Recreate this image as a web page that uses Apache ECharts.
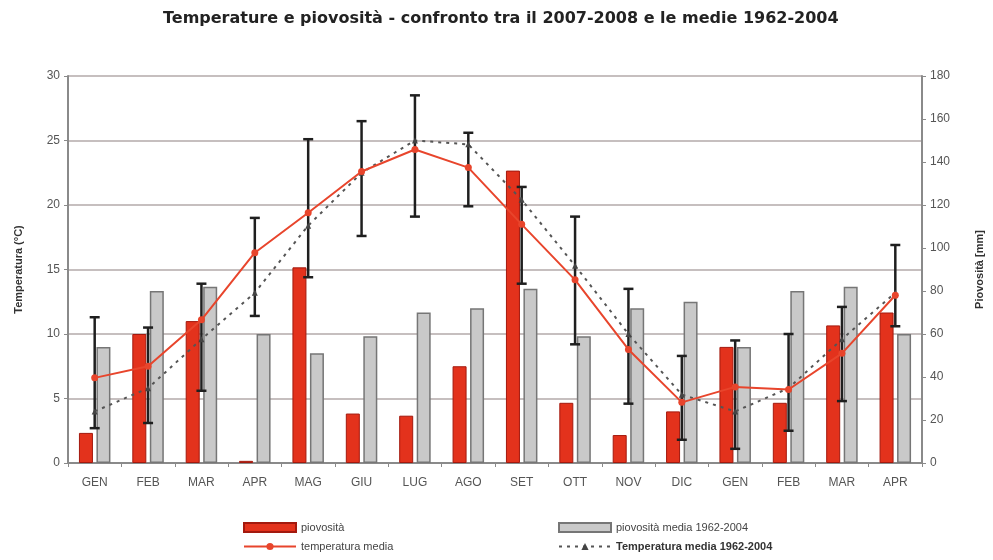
<!DOCTYPE html>
<html>
<head>
<meta charset="utf-8">
<script src="https://cdn.jsdelivr.net/npm/echarts@6/dist/echarts.min.js"></script>
<style>
  html, body { margin: 0; padding: 0; background: #ffffff; }
  #chart { width: 993px; height: 560px; }
</style>
</head>
<body>
<div id="chart"></div>
<script>
// dati
const months = ["GEN", "FEB", "MAR", "APR", "MAG", "GIU", "LUG", "AGO", "SET", "OTT", "NOV", "DIC", "GEN", "FEB", "MAR", "APR"];
const pioggia = [14, 60, 66, 1, 91, 23, 22, 45, 136, 28, 13, 24, 54, 28, 64, 70];
const pioggiaMedia = [54, 80, 82, 60, 51, 59, 70, 72, 81, 59, 72, 75, 54, 80, 82, 60];
const tempMedia = [6.6, 7.5, 11.1, 16.3, 19.4, 22.6, 24.3, 22.9, 18.5, 14.2, 8.8, 4.7, 5.9, 5.7, 8.5, 13.0];
const tempStorica = [4.0, 5.8, 9.6, 13.2, 18.4, 22.5, 25.0, 24.7, 20.4, 15.3, 10.0, 5.3, 4.0, 5.8, 9.6, 13.2];
const tempMin = [2.7, 3.1, 5.6, 11.4, 14.4, 17.6, 19.1, 19.9, 13.9, 9.2, 4.6, 1.8, 1.1, 2.5, 4.8, 10.6];
const tempMax = [11.3, 10.5, 13.9, 19.0, 25.1, 26.5, 28.5, 25.6, 21.4, 19.1, 13.5, 8.3, 9.5, 10.0, 12.1, 16.9];

var errorData = months.map(function (m, i) {
  return [i, tempMin[i], tempMax[i]];
});

var chartDom = document.getElementById("chart");
var myChart = echarts.init(chartDom);
var labelStyle = { color: "#555", fontSize: 12, fontFamily: "Liberation Sans" };

var option = {
  animation: false,
  title: {
    text: "Temperature e piovosità - confronto tra il 2007-2008 e le medie 1962-2004",
    left: 158,
    top: 6,
    textStyle: { fontSize: 16, fontWeight: "bold", color: "#222", fontFamily: "DejaVu Sans" },
  },
  grid: { left: 68, right: 64, top: 76, bottom: 97 },
  legend: [
    {
      orient: "vertical",
      left: 238,
      top: 517,
      itemWidth: 52,
      itemHeight: 9,
      itemGap: 8,
      textStyle: { color: "#444", fontSize: 11, fontFamily: "Liberation Sans" },
      data: [
        { name: "piovosità", icon: "rect" },
        { name: "temperatura media" },
      ],
    },
    {
      orient: "vertical",
      left: 553,
      top: 517,
      itemWidth: 52,
      itemHeight: 9,
      itemGap: 8,
      textStyle: { color: "#444", fontSize: 11, fontFamily: "Liberation Sans" },
      data: [
        { name: "piovosità media 1962-2004", icon: "rect" },
        { name: "Temperatura media 1962-2004", textStyle: { fontWeight: "bold", color: "#333" } },
      ],
    },
  ],
  xAxis: {
    type: "category",
    data: months,
    axisLine: { lineStyle: { color: "#8a8a8a", width: 2 } },
    axisTick: { show: true, length: 4, lineStyle: { color: "#8a8a8a" } },
    axisLabel: Object.assign({ margin: 14 }, labelStyle),
  },
  yAxis: [
    {
      type: "value",
      min: 0,
      max: 30,
      interval: 5,
      name: "Temperatura (°C)",
      nameLocation: "middle",
      nameGap: 44,
      nameRotate: 90,
      nameTextStyle: { fontSize: 11, fontWeight: "bold", color: "#333", fontFamily: "Liberation Sans" },
      axisLine: { show: true, lineStyle: { color: "#8a8a8a", width: 2 } },
      axisTick: { show: true, length: 4, lineStyle: { color: "#8a8a8a" } },
      axisLabel: Object.assign({ margin: 8 }, labelStyle),
      splitLine: { lineStyle: { color: "#b3aaaa", width: 1.5 } },
    },
    {
      type: "value",
      min: 0,
      max: 180,
      interval: 20,
      name: "Piovosità [mm]",
      nameLocation: "middle",
      nameGap: 52,
      nameRotate: 90,
      nameTextStyle: { fontSize: 11, fontWeight: "bold", color: "#333", fontFamily: "Liberation Sans" },
      axisLine: { show: true, lineStyle: { color: "#8a8a8a", width: 2 } },
      axisTick: { show: true, length: 4, lineStyle: { color: "#8a8a8a" } },
      axisLabel: Object.assign({ margin: 8 }, labelStyle),
      splitLine: { show: false },
    },
  ],
  series: [
    {
      name: "piovosità",
      type: "bar",
      yAxisIndex: 1,
      barWidth: 14,
      barGap: "25%",
      data: pioggia,
      itemStyle: { color: "#e3321c", borderColor: "#a3190e", borderWidth: 1 },
      z: 2,
    },
    {
      name: "piovosità media 1962-2004",
      type: "bar",
      yAxisIndex: 1,
      barWidth: 14,
      data: pioggiaMedia,
      itemStyle: { color: "#c9c9c9", borderColor: "#767676", borderWidth: 1.5 },
      z: 2,
    },
    {
      name: "errore",
      type: "custom",
      yAxisIndex: 0,
      data: errorData,
      z: 3,
      renderItem: function (params, api) {
        var x = api.value(0);
        var lo = api.coord([x, api.value(1)]);
        var hi = api.coord([x, api.value(2)]);
        var half = 5;
        var style = { stroke: "#1f1f1f", lineWidth: 2.5 };
        return {
          type: "group",
          children: [
            { type: "line", shape: { x1: hi[0], y1: hi[1], x2: lo[0], y2: lo[1] }, style: style },
            { type: "line", shape: { x1: hi[0] - half, y1: hi[1], x2: hi[0] + half, y2: hi[1] }, style: style },
            { type: "line", shape: { x1: lo[0] - half, y1: lo[1], x2: lo[0] + half, y2: lo[1] }, style: style },
          ],
        };
      },
    },
    {
      name: "Temperatura media 1962-2004",
      type: "line",
      yAxisIndex: 0,
      data: tempStorica,
      symbol: "triangle",
      symbolSize: 6,
      lineStyle: { color: "#555", width: 2, type: [3, 5] },
      itemStyle: { color: "#444" },
      z: 4,
    },
    {
      name: "temperatura media",
      type: "line",
      yAxisIndex: 0,
      data: tempMedia,
      symbol: "circle",
      symbolSize: 7,
      lineStyle: { color: "#e8452c", width: 2 },
      itemStyle: { color: "#e8452c" },
      z: 5,
    },
  ],
};
option && myChart.setOption(option);
</script>
</body>
</html>
